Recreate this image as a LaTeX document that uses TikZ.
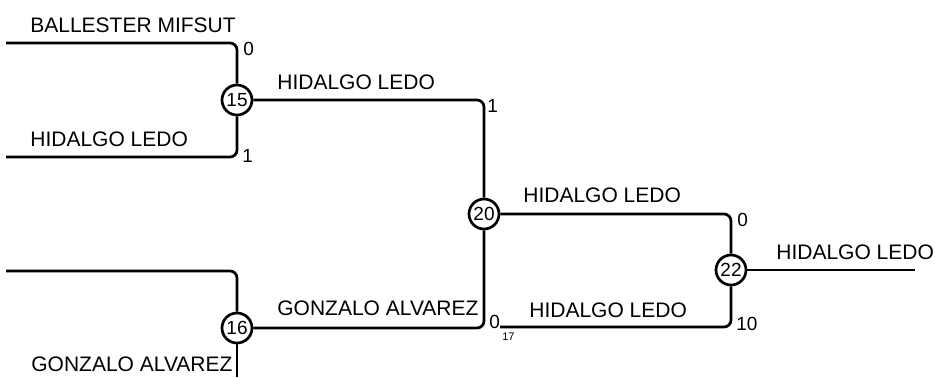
\documentclass[tikz,border=0pt]{standalone}
\usepackage{fontspec}
\setmainfont{Liberation Sans}
\usetikzlibrary{positioning}

\begin{document}
\begin{tikzpicture}
[x=0.5pt, y=-0.5pt, line width=1.35pt, draw=black,
match/.style={circle, draw, fill=white, inner sep=0pt, minimum size=15pt, font=\fontsize{9.5}{10}\selectfont},
wire/.style={rounded corners=3.5pt},
player/.style={anchor=base west, inner sep=0pt, font=\fontsize{10.5}{12}\selectfont},
score/.style={anchor=base west, inner sep=0pt, font=\fontsize{9.5}{10}\selectfont},
seed/.style={anchor=base west, inner sep=0pt, font=\fontsize{5.5}{6}\selectfont}]

\useasboundingbox (0,0) rectangle (935,377);

\coordinate (p0) at (6,43);
\coordinate (p1) at (6,157);
\coordinate (p2) at (6,271);
\coordinate (p3) at (237,377);
\coordinate (p17) at (500,327);
\coordinate (win) at (915,270);

\node[match] (m15) at (237,100) {15};
\node[match] (m16) at (237,328) {16};
\node[match] (m20) at (484,214) {20};
\node[match] (m22) at (731,270) {22};

\draw[wire] (p0) -| (m15);
\draw[wire] (p1) -| (m15);
\draw[wire] (p2) -| (m16);
\draw (m16) -- (p3);
\draw[wire] (m15) -| (m20);
\draw[wire] (m16) -| (m20);
\draw[wire] (m20) -| (m22);
\draw[wire] (p17) -| (m22);
\draw (m22) -- (win);

\node[player] (n0) at (29,32) {BALLESTER MIFSUT};
\node[player] (n1) at (29,146) {HIDALGO LEDO};
\node[player] (n3) at (30,371) {GONZALO ALVAREZ};
\node[player] (n15) at (276,89) {HIDALGO LEDO};
\node[player] (n16) at (276,315) {GONZALO ALVAREZ};
\node[player] (n20) at (522,202) {HIDALGO LEDO};
\node[player] (n17) at (528,317) {HIDALGO LEDO};
\node[player] (n22) at (775,259) {HIDALGO LEDO};

\node[score] (s0) at (242,55) {0};
\node[score] (s1) at (241,162) {1};
\node[score] (s15) at (486,112) {1};
\node[score] (s16) at (488,328) {0};
\node[seed] (t17) at (501,340) {17};
\node[score] (s20) at (736,226) {0};
\node[score] (s21) at (735,330) {10};
\end{tikzpicture}
\end{document}
